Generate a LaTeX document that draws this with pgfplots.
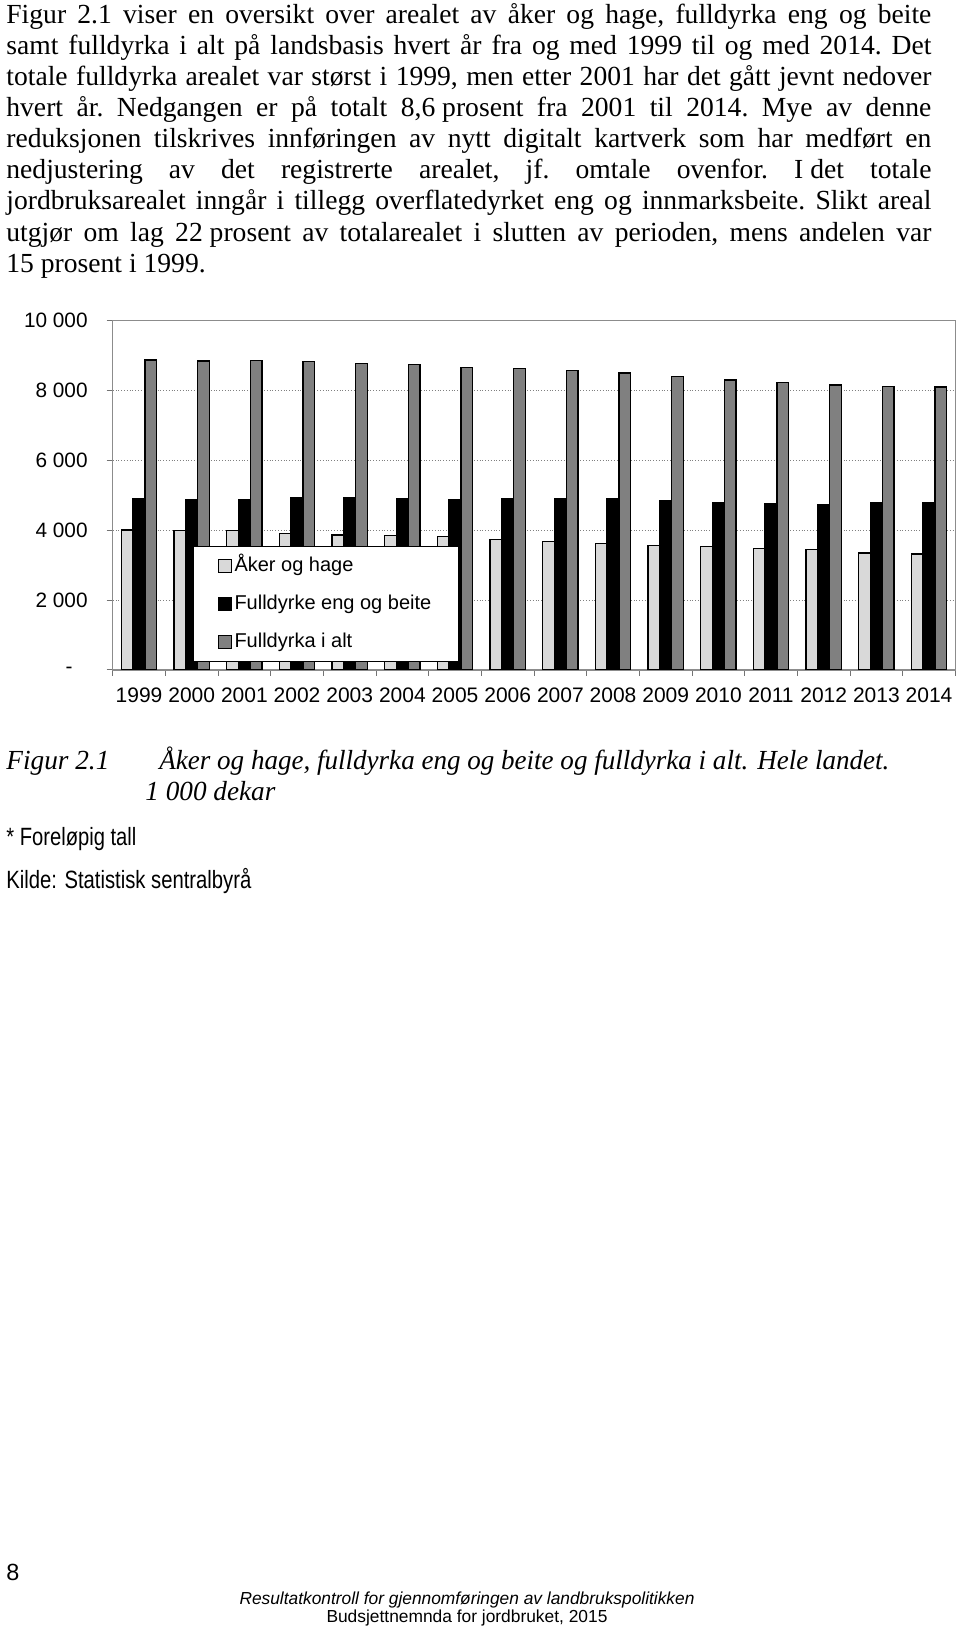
\documentclass[border=0pt]{standalone}
\usepackage{pgfplots}
\pgfplotsset{compat=1.18}
\usepackage{pgfplotstable}
\usepackage{graphicx}
\usepackage{fontspec}
\setmainfont{Liberation Serif}
\newfontfamily\arial{Liberation Sans}

\definecolor{akergray}{HTML}{D9D9D9}
\definecolor{totgray}{HTML}{808080}

\pgfplotstableread{
idx aker eng  tot
0   4008 4895 8874
1   3995 4866 8845
2   3998 4876 8864
3   3912 4933 8836
4   3865 4924 8769
5   3855 4905 8740
6   3817 4866 8664
7   3731 4905 8626
8   3674 4914 8578
9   3616 4895 8502
10  3569 4847 8397
11  3540 4781 8302
12  3483 4761 8225
13  3445 4742 8158
14  3349 4781 8111
15  3321 4800 8101
}\data

\newcommand{\bodyline}[2]{\node[anchor=base west, inner sep=0pt] at (3pt,#1) {\fontsize{13.8}{16}\selectfont\frenchspacing\makebox[462.5pt][s]{#2}};}

\begin{document}
\begin{tikzpicture}[x=1pt,y=1pt]
\path[use as bounding box] (0,0) rectangle (480,814);

% body text
\bodyline{802.3}{Figur 2.1 viser en oversikt over arealet av åker og hage, fulldyrka eng og beite}
\bodyline{786.7}{samt fulldyrka i alt på landsbasis hvert år fra og med 1999 til og med 2014. Det}
\bodyline{771.2}{totale fulldyrka arealet var størst i 1999, men etter 2001 har det gått jevnt nedover}
\bodyline{755.6}{hvert år. Nedgangen er på totalt 8,6\kern0.25em prosent fra 2001 til 2014. Mye av denne}
\bodyline{740.1}{reduksjonen tilskrives innføringen av nytt digitalt kartverk som har medført en}
\bodyline{724.5}{nedjustering av det registrerte arealet, jf. omtale ovenfor. I\kern0.25em det totale}
\bodyline{709.0}{jordbruksarealet inngår i tillegg overflatedyrket eng og innmarksbeite. Slikt areal}
\bodyline{693.4}{utgjør om lag 22\kern0.25em prosent av totalarealet i slutten av perioden, mens andelen var}
\node[anchor=base west, inner sep=0pt] at (3pt,677.9) {\fontsize{13.8}{16}\selectfont 15\kern0.25em prosent i 1999.};

\begin{axis}[
  at={(56.35pt,479pt)}, anchor=south west,
  scale only axis, width=421.35pt, height=174.65pt,
  xmin=-0.5, xmax=15.5, ymin=0, ymax=10000,
  ybar=0pt, bar width=5.9pt,
  axis line style={draw=black!45, line width=0.6pt},
  xtick={-0.5,0.5,...,15.5},
  x tick label as interval,
  xticklabels={1999,2000,2001,2002,2003,2004,2005,2006,2007,2008,2009,2010,2011,2012,2013,2014},
  scaled y ticks=false,
  ytick={0,2000,4000,6000,8000,10000},
  yticklabels={{-\hspace*{7.5pt}},{2 000},{4 000},{6 000},{8 000},{10 000}},
  tick align=outside, major tick length=3pt,
  tick pos=left,
  tick style={draw=black!55, line width=0.5pt},
  ymajorgrids, grid style={densely dotted, draw=black!50, line width=0.5pt},
  xticklabel style={font=\arial\fontsize{10.5}{12}\selectfont, yshift=-2.5pt},
  yticklabel style={font=\arial\fontsize{10.4}{12}\selectfont, xshift=-6pt},
  legend style={at={(0.0953,0.355)}, anchor=north west, draw=black, line width=0.5pt, fill=white,
    font=\arial\fontsize{10}{12}\selectfont, inner xsep=12pt, inner ysep=3.5pt, row sep=6.2pt,
    nodes={inner sep=1.5pt, text height=7.5pt, text depth=2.2pt}},
  legend cell align=left,
  legend image code/.code={\draw[#1, line width=0.5pt] (0pt,-3.25pt) rectangle (6.5pt,3.25pt);},
]
\addplot[fill=akergray, draw=black, line width=0.7pt] table[x=idx, y=aker] {\data};
\addplot[fill=black, draw=black, line width=0.7pt] table[x=idx, y=eng] {\data};
\addplot[fill=totgray, draw=black, line width=0.7pt] table[x=idx, y=tot] {\data};
\legend{Åker og hage, Fulldyrke eng og beite, Fulldyrka i alt}
\end{axis}

% caption
\node[anchor=base west, inner sep=0pt] at (3pt,429.3) {\resizebox{51.5pt}{\height}{\fontsize{13.8}{16}\selectfont\itshape Figur 2.1}};
\node[anchor=base west, inner sep=0pt] at (79.5pt,429.3) {\resizebox{365pt}{\height}{\fontsize{13.8}{16}\selectfont\itshape Åker og hage, fulldyrka eng og beite og fulldyrka i alt. Hele landet.}};
\node[anchor=base west, inner sep=0pt] at (72.5pt,413.9) {\resizebox{65pt}{\height}{\fontsize{13.8}{16}\selectfont\itshape 1 000 dekar}};
% notes
\node[anchor=base west, inner sep=0pt] at (3pt,391) {\resizebox{65pt}{\height}{\arial\fontsize{12.5}{14}\selectfont * Foreløpig tall}};
\node[anchor=base west, inner sep=0pt] at (3pt,369.5) {\resizebox{122.5pt}{\height}{\arial\fontsize{12.5}{14}\selectfont Kilde: Statistisk sentralbyrå}};
% footer
\node[anchor=base west, inner sep=0pt] at (3pt,23.5) {\arial\fontsize{11.7}{14}\selectfont 8};
\node[anchor=base, inner sep=0pt] at (233.5pt,12) {\resizebox{227.5pt}{\height}{\arial\fontsize{8.7}{10}\selectfont\itshape Resultatkontroll for gjennomføringen av landbrukspolitikken}};
\node[anchor=base, inner sep=0pt] at (233.5pt,2.6) {\resizebox{140.5pt}{\height}{\arial\fontsize{8.7}{10}\selectfont Budsjettnemnda for jordbruket, 2015}};
\end{tikzpicture}
\end{document}
